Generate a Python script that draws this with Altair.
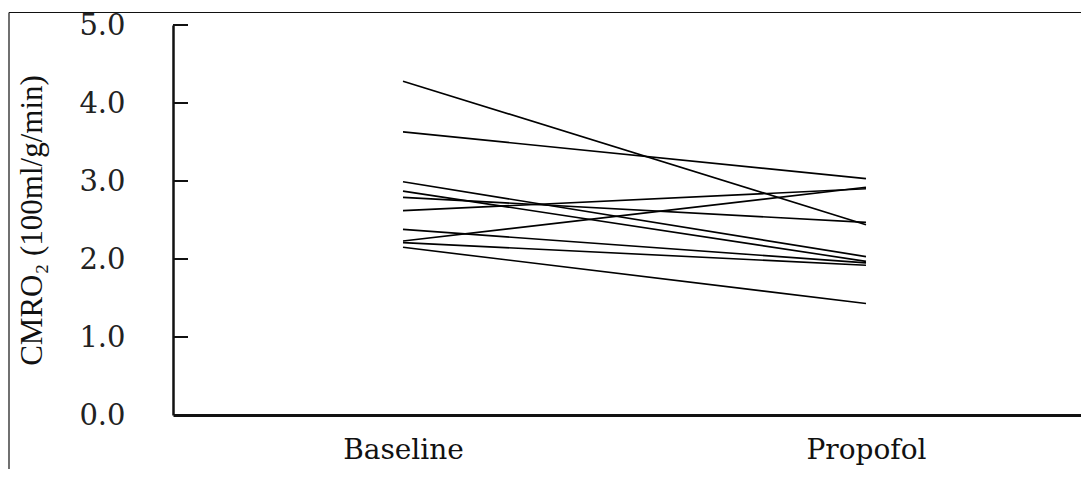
import altair as alt
import pandas as pd

groups = ["Baseline", "Propofol"]
baseline = [4.28, 3.63, 2.99, 2.87, 2.79, 2.62, 2.38, 2.23, 2.21, 2.15]
propofol = [2.44, 3.03, 2.03, 1.97, 2.47, 2.90, 1.95, 2.92, 1.92, 1.43]
y_ticks = [0, 1, 2, 3, 4, 5]

rows = []
for i, (b, p) in enumerate(zip(baseline, propofol)):
    rows.append({"subject": i, "xi": 0, "group": groups[0], "v": b})
    rows.append({"subject": i, "xi": 1, "group": groups[1], "v": p})
df = pd.DataFrame(rows)
ticks_df = pd.DataFrame({"t": y_ticks[1:]})
one = pd.DataFrame({"a": [0]})

W, H = 908, 390
label_expr = "[" + ",".join("'%s'" % g for g in groups) + "][datum.value]"

xs = alt.Scale(domain=[-0.4968, 1.4644], nice=False, zero=False)
ys = alt.Scale(domain=[0, 5], nice=False, zero=True)

lines = alt.Chart(df).mark_line(color="#000", strokeWidth=1.6).encode(
    x=alt.X("xi:Q", scale=xs, axis=alt.Axis(
        values=[0, 1], labelExpr=label_expr, ticks=False, grid=False,
        domainWidth=3, domainColor="#111", labelFont="DejaVu Serif",
        labelFontSize=28, labelColor="#111", labelPadding=21,
        labelBaseline="top", title=None)),
    y=alt.Y("v:Q", scale=ys, axis=alt.Axis(
        values=y_ticks, format=".1f", ticks=False, grid=False,
        domainWidth=2.5, domainColor="#111", labelFont="DejaVu Serif",
        labelFontSize=29, labelColor="#222", labelPadding=48,
        title="CMRO₂ (100ml/g/min)", titleFont="Liberation Serif",
        titleFontSize=31, titleFontWeight="normal", titleColor="#111",
        titleX=-141, titleY=195, titleAngle=270, titleAlign="center",
        titleBaseline="middle")),
    detail="subject:N",
)

inticks = alt.Chart(ticks_df).mark_rule(color="#111", strokeWidth=2).encode(
    x=alt.value(0), x2=alt.value(15), y=alt.Y("t:Q", scale=ys)
)

frame_top = alt.Chart(one).mark_rule(color="#111", strokeWidth=1.2).encode(
    x=alt.value(-164), x2=alt.value(W + 20), y=alt.value(-12.5)
)
frame_left = alt.Chart(one).mark_rule(color="#111", strokeWidth=1.2).encode(
    x=alt.value(-164), y=alt.value(-12.5), y2=alt.value(H + 80)
)

chart = alt.layer(lines, inticks, frame_top, frame_left).properties(
    width=W, height=H,
    autosize=alt.AutoSizeParams(type="none"),
    padding={"left": 165, "top": 17, "right": 0, "bottom": 54},
    background="white",
).configure_view(stroke=None)

chart.save("out.html", embed_options={"renderer": "svg", "actions": False})
